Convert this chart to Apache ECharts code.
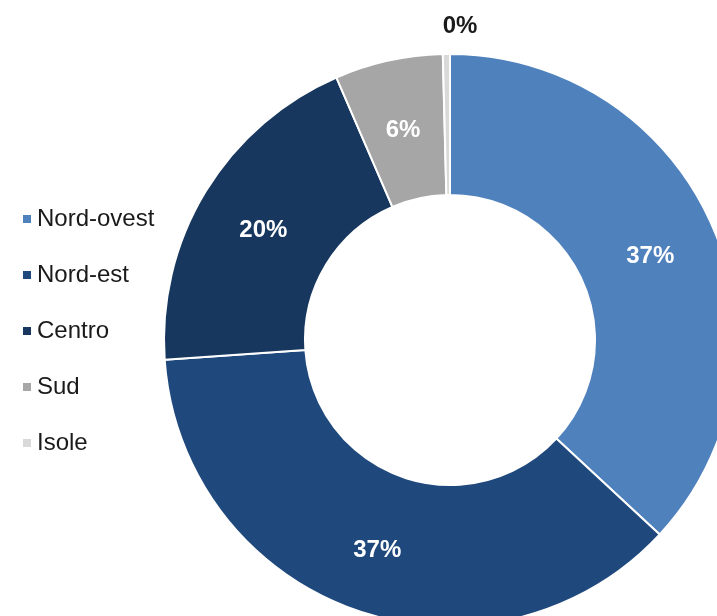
<!DOCTYPE html>
<html>
<head>
<meta charset="utf-8">
<script src="https://cdn.jsdelivr.net/npm/echarts@6/dist/echarts.min.js"></script>
<style>
  html, body { margin: 0; padding: 0; background: #fff; }
  #main { width: 717px; height: 616px; }
</style>
</head>
<body>
<div id="main"></div>
<script>
var categories = ['Nord-ovest', 'Nord-est', 'Centro', 'Sud', 'Isole'];
var values = [36.9, 37.0, 19.6, 6.1, 0.4];
var colors = ['#4f81bd', '#1f487c', '#17375e', '#a6a6a6', '#d9d9d9'];

var FONT = '"Liberation Sans", Arial, sans-serif';

var chart = echarts.init(document.getElementById('main'));

var pieData = categories.map(function (name, i) {
  var item = { name: name, value: values[i], itemStyle: { color: colors[i] } };
  if (name === 'Isole') {
    // tiny slice: label sits above the ring
    item.label = { position: 'outside', color: '#1a1a1a', distance: 10 };
    item.labelLine = { show: false, length: 4, length2: 0 };
  }
  return item;
});

var option = {
  animation: false,
  legend: {
    orient: 'vertical',
    left: 16,
    top: 202,
    icon: 'rect',
    itemWidth: 10,
    itemHeight: 10,
    itemGap: 32,
    textStyle: { fontFamily: FONT, fontSize: 24, lineHeight: 24, color: '#1a1a1a', padding: [0, 0, 0, 0] },
    data: categories
  },
  series: [{
    type: 'pie',
    center: [450, 340],
    radius: [145, 286],
    startAngle: 90,
    clockwise: true,
    avoidLabelOverlap: false,
    itemStyle: { borderColor: '#fff', borderWidth: 2 },
    label: {
      position: 'inside',
      color: '#fff',
      fontFamily: FONT,
      fontWeight: 'bold',
      fontSize: 24,
      formatter: function (p) { return Math.round(p.percent) + '%'; }
    },
    labelLine: { show: false },
    labelLayout: function (p) {
      if (p.dataIndex === 4) {
        return { dx: 36, dy: -24 };
      }
      return { dy: 4 };
    },
    emphasis: { disabled: true },
    data: pieData
  }]
};

chart.setOption(option);
</script>
</body>
</html>
